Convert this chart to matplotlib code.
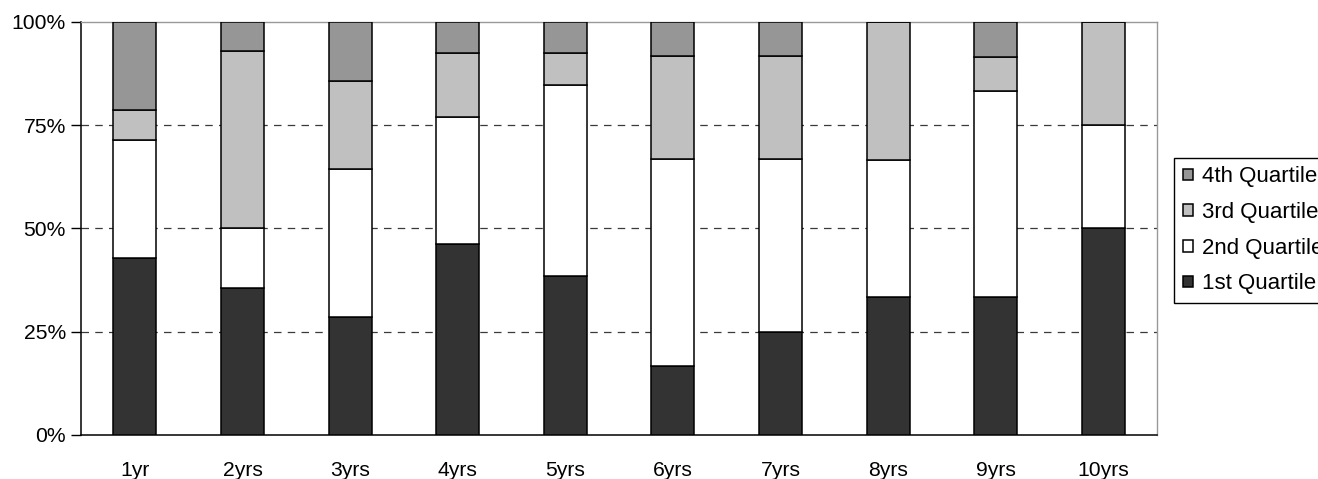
import matplotlib.pyplot as plt
import numpy as np

plt.rcParams["font.family"] = ["Liberation Sans", "DejaVu Sans"]

# share of funds per quartile, by track-record length (%)
periods = ["1yr", "2yrs", "3yrs", "4yrs", "5yrs", "6yrs", "7yrs", "8yrs", "9yrs", "10yrs"]
q1 = [42.9, 35.7, 28.6, 46.2, 38.5, 16.7, 25.0, 33.3, 33.3, 50.0]
q2 = [28.6, 14.3, 35.7, 30.8, 46.2, 50.0, 41.7, 33.3, 50.0, 25.0]
q3 = [7.1, 42.9, 21.4, 15.4, 7.7, 25.0, 25.0, 33.4, 8.3, 25.0]
q4 = [21.4, 7.1, 14.3, 7.7, 7.7, 8.3, 8.3, 0.0, 8.3, 0.0]

series = [
    ("1st Quartile", q1, "#333333"),
    ("2nd Quartile", q2, "#ffffff"),
    ("3rd Quartile", q3, "#c0c0c0"),
    ("4th Quartile", q4, "#969696"),
]

fig = plt.figure(figsize=(13.18, 4.79), dpi=100)
ax = fig.add_axes([0.0615, 0.0919, 0.8165, 0.8623])

x = np.arange(len(periods))
bottom = np.zeros(len(periods))
handles = []
for name, vals, color in series:
    b = ax.bar(x, vals, 0.4, bottom=bottom, color=color, edgecolor="black",
               linewidth=1.1, label=name, zorder=3)
    bottom += np.array(vals)
    handles.append(b)

ax.set_xlim(-0.5, len(periods) - 0.5)
ax.set_ylim(0, 100)
ax.set_yticks([0, 25, 50, 75, 100])
ax.set_yticklabels(["0%", "25%", "50%", "75%", "100%"])
ax.set_xticks(x)
ax.set_xticklabels(periods)
ax.tick_params(axis="x", length=0, pad=19, labelsize=15.2)
ax.tick_params(axis="y", length=7, width=1, direction="out", pad=4, labelsize=15.2)

for y in [25, 50, 75]:
    ax.axhline(y, color="#3a3a3a", linewidth=0.9, linestyle=(0, (6, 5)), zorder=1)

for side in ["top", "right"]:
    ax.spines[side].set_color("#999999")
    ax.spines[side].set_linewidth(1.0)
for side in ["left", "bottom"]:
    ax.spines[side].set_color("black")
    ax.spines[side].set_linewidth(1.1)

# legend sits right of the plot and runs past the figure edge
leg = ax.legend(handles[::-1], [s[0] for s in series][::-1], loc="upper left",
                bbox_to_anchor=(1.0158, 0.6707), borderaxespad=0, fontsize=16,
                handlelength=0.45, handleheight=0.45, handletextpad=0.4,
                labelspacing=0.66, borderpad=0.38, fancybox=False,
                edgecolor="black", framealpha=1)
leg.get_frame().set_linewidth(1.0)

fig.savefig("out.png", dpi=100)
